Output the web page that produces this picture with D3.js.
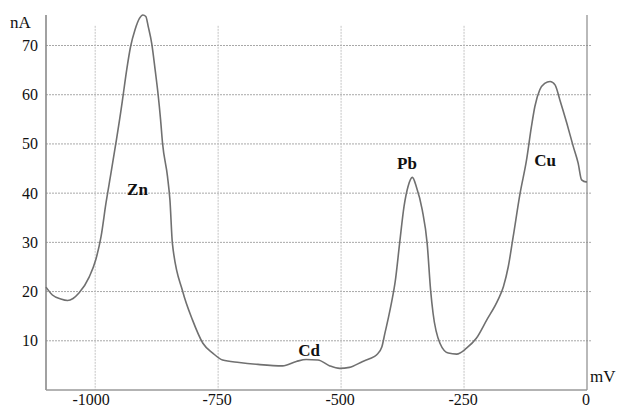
<!DOCTYPE html>
<html>
<head>
<meta charset="UTF-8">
<title>Voltammogram</title>
<script src="https://d3js.org/d3.v7.min.js"></script>
<style>
  body { margin: 0; background: #fff; }
  .grid line { stroke: #a8a8a8; stroke-width: 1; stroke-dasharray: 2,1; }
  .tick-label { font-size: 16px; fill: #111; }
  .unit { font-size: 17px; fill: #111; }
  .peak { font-size: 17px; font-weight: bold; fill: #111; }
  .curve { fill: none; stroke: #707070; stroke-width: 1.6; }
</style>
</head>
<body>
<svg width="618" height="408" font-family="'Liberation Serif', 'Times New Roman', Times, serif"></svg>
<script>
// potential (mV) and current (nA)
const potentials = [-1100, -1087, -1070, -1056, -1045, -1033, -1012, -999, -988, -978, -968, -958, -948, -944, -936, -928, -919, -910, -903, -897, -892, -885, -878, -872, -867, -863, -853, -848, -843, -822, -802, -781, -761, -741, -707, -669, -619, -591, -571, -547, -523, -503, -483, -456, -441, -428, -417, -411, -404, -397, -390, -381, -372, -364, -355, -347, -335, -325, -318, -313, -299, -282, -265, -245, -225, -204, -181, -170, -160, -150, -136, -123, -113, -106, -96, -86, -75, -65, -55, -41, -28, -18, -11, -2, 0];
const currents   = [20.9, 19.3, 18.5, 18.2, 18.6, 19.7, 23.0, 26.4, 31.2, 38.0, 44.0, 50.1, 56.5, 59.3, 65.0, 69.8, 73.2, 75.5, 76.2, 75.9, 73.8, 70.4, 65.0, 60.0, 54.9, 50.1, 43.4, 38.6, 29.8, 20.0, 14.2, 9.5, 7.5, 6.1, 5.6, 5.2, 4.9, 5.8, 6.2, 6.1, 4.9, 4.4, 4.6, 5.8, 6.4, 7.1, 8.8, 11.5, 14.6, 18.0, 22.0, 29.8, 37.3, 41.3, 43.2, 41.3, 36.6, 29.8, 20.3, 15.6, 9.5, 7.5, 7.3, 8.5, 10.5, 14.2, 18.3, 21.0, 25.1, 31.2, 40.0, 46.7, 53.5, 57.6, 61.0, 62.3, 62.7, 62.0, 58.9, 54.2, 49.5, 46.1, 42.7, 42.3, 42.3];

const yTicks = [10, 20, 30, 40, 50, 60, 70];
const xTicks = [-1000, -750, -500, -250, 0];
const xGrid = [-1000, -750, -500, -250];

const peakNames = ["Zn", "Cd", "Pb", "Cu"];
const peakMV = [-914, -565, -366, -85];
const peakNA = [39.6, 6.9, 44.9, 45.5];

const svg = d3.select("svg");
const m = { left: 46, right: 587, top: 15, bottom: 390 };

const x = d3.scaleLinear().domain([-1100, 0]).range([m.left, m.right]);
const y = d3.scaleLinear().domain([0, 76.2]).range([m.bottom, m.top]);

// grid
const grid = svg.append("g").attr("class", "grid");
grid.selectAll(".h").data(yTicks).enter().append("line")
  .attr("x1", m.left).attr("x2", m.right + 5)
  .attr("y1", d => y(d)).attr("y2", d => y(d));
grid.selectAll(".v").data(xGrid).enter().append("line")
  .attr("x1", d => x(d)).attr("x2", d => x(d))
  .attr("y1", y(74)).attr("y2", m.bottom)
  .style("stroke", "#c4c4c4");

// axes frame
svg.append("line").attr("x1", m.left).attr("x2", m.left).attr("y1", m.top).attr("y2", m.bottom)
  .attr("stroke", "#8a8a8a").attr("stroke-width", 1.6);
svg.append("line").attr("x1", m.right).attr("x2", m.right).attr("y1", m.top).attr("y2", m.bottom)
  .attr("stroke", "#8a8a8a").attr("stroke-width", 1.2);
svg.append("line").attr("x1", m.left).attr("x2", m.right).attr("y1", m.bottom).attr("y2", m.bottom)
  .attr("stroke", "#9a9a9a").attr("stroke-width", 1.6);

// tick labels
svg.selectAll(".ylab").data(yTicks).enter().append("text")
  .attr("class", "tick-label")
  .attr("x", m.left - 8).attr("y", d => y(d))
  .attr("text-anchor", "end").attr("dominant-baseline", "central")
  .text(d => d);
svg.selectAll(".xlab").data(xTicks).enter().append("text")
  .attr("class", "tick-label")
  .attr("x", d => x(d) - (d === -1000 ? 4 : 1)).attr("y", 405)
  .attr("text-anchor", "middle")
  .text(d => d);

svg.append("text").attr("class", "unit").attr("x", 10).attr("y", 28).text("nA");
svg.append("text").attr("class", "unit").attr("x", 590).attr("y", 382).text("mV");

// trace
const line = d3.line()
  .x((d, i) => x(potentials[i]))
  .y(d => y(d))
  .curve(d3.curveMonotoneX);
svg.append("path").attr("class", "curve").attr("d", line(currents));

// peak labels
svg.selectAll(".peak").data(peakNames).enter().append("text")
  .attr("class", "peak")
  .attr("x", (d, i) => x(peakMV[i])).attr("y", (d, i) => y(peakNA[i]))
  .attr("text-anchor", "middle")
  .text(d => d);
</script>
</body>
</html>
